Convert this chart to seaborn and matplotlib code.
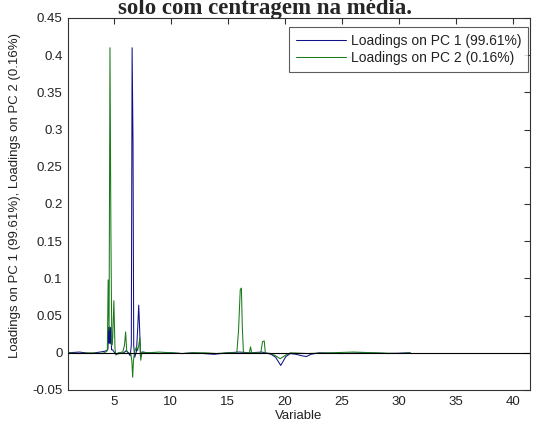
import matplotlib
matplotlib.use("Agg")
import matplotlib.pyplot as plt
import seaborn as sns
import pandas as pd
from matplotlib.ticker import FuncFormatter

# Loadings on PC 1 (variable position, loading)
pc1_x = [1.0, 2.0, 3.0, 3.8, 4.2, 4.4, 4.5, 4.55, 4.6, 4.65, 4.7, 4.75, 4.82,
         4.9, 5.0, 5.2, 5.5, 5.9, 6.1, 6.3, 6.45, 6.55, 6.62, 6.7, 6.76, 6.85,
         7.0, 7.1, 7.2, 7.28, 7.35, 7.5, 8.0, 9.0, 10.0, 11.0, 12.0, 13.8,
         15.0, 16.0, 17.0, 18.0, 18.8, 19.2, 19.65, 20.1, 20.5, 21.0, 21.5,
         21.9, 22.3, 23.0, 25.0, 27.0, 29.0, 31.0]
pc1_y = [0.0, 0.001, -0.001, 0.001, 0.002, 0.003, 0.005, 0.034, 0.013, 0.035,
         0.012, 0.034, 0.004, 0.004, 0.002, -0.002, -0.001, 0.0, 0.003, 0.0,
         -0.004, 0.01, 0.41, 0.28, 0.01, -0.006, 0.002, 0.03, 0.064, 0.032,
         -0.005, 0.001, 0.0, -0.001, 0.0, -0.001, 0.0, -0.002, 0.0, 0.001,
         0.0, 0.001, -0.002, -0.006, -0.017, -0.005, -0.001, -0.002, -0.004,
         -0.005, -0.002, 0.0, -0.001, 0.0, -0.001, 0.0]

# Loadings on PC 2
pc2_x = [1.0, 2.0, 3.0, 3.9, 4.2, 4.45, 4.52, 4.6, 4.68, 4.76, 4.84, 4.92,
         5.02, 5.12, 5.2, 5.4, 5.8, 5.95, 6.05, 6.15, 6.3, 6.5, 6.6, 6.67,
         6.74, 6.85, 7.0, 7.1, 7.2, 7.3, 7.38, 7.48, 8.0, 9.0, 10.0, 11.0,
         12.0, 13.0, 14.0, 15.0, 15.8, 15.95, 16.1, 16.2, 16.28, 16.38, 16.9,
         17.0, 17.1, 17.9, 18.05, 18.2, 18.3, 18.8, 19.2, 19.6, 20.1, 20.5,
         22.0, 24.0, 26.0, 28.0, 30.0, 31.0]
pc2_y = [0.0, -0.001, 0.0, -0.001, 0.0, 0.003, 0.098, 0.03, 0.41, 0.163,
         0.01, 0.02, 0.07, 0.005, -0.003, 0.0, 0.001, 0.01, 0.028, 0.002,
         -0.001, 0.0, -0.012, -0.033, -0.01, 0.002, 0.008, 0.003, 0.01, 0.02,
         -0.01, 0.001, 0.0, 0.001, 0.0, -0.001, 0.0, 0.0, -0.001, 0.0, 0.0,
         0.03, 0.085, 0.087, 0.035, 0.0, 0.0, 0.008, 0.0, 0.0, 0.015, 0.016,
         0.0, -0.001, -0.004, -0.008, -0.003, 0.0, -0.001, 0.0, 0.001, 0.0,
         -0.001, 0.0]

series_labels = ["Loadings on PC 1 (99.61%)", "Loadings on PC 2 (0.16%)"]
series_colors = ["#10108a", "#1a7a1a"]

x_ticks = [5, 10, 15, 20, 25, 30, 35, 40]
y_ticks = [-0.05, 0, 0.05, 0.1, 0.15, 0.2, 0.25, 0.3, 0.35, 0.4, 0.45]

df = pd.concat([
    pd.DataFrame({"Variable": pc1_x, "Loading": pc1_y, "Series": series_labels[0]}),
    pd.DataFrame({"Variable": pc2_x, "Loading": pc2_y, "Series": series_labels[1]}),
], ignore_index=True)

sns.set_style("white")
plt.rcParams["font.family"] = ["Liberation Sans", "DejaVu Sans"]

fig = plt.figure(figsize=(5.33, 4.26), dpi=100)
ax = fig.add_axes([68 / 533, 1 - 390 / 426, 462 / 533, 372 / 426])

sns.lineplot(data=df, x="Variable", y="Loading", hue="Series",
             palette=dict(zip(series_labels, series_colors)),
             estimator=None, sort=False, linewidth=0.75, ax=ax)

ax.axhline(0, color="black", linewidth=0.8, zorder=3)

ax.set_xlim(1, 41.5)
ax.set_ylim(-0.05, 0.45)
ax.set_xticks(x_ticks)
ax.set_yticks(y_ticks)
ax.yaxis.set_major_formatter(FuncFormatter(lambda v, p: f"{v:g}"))
ax.tick_params(axis="both", which="both", direction="in", length=4,
               width=0.8, top=True, right=True, labelsize=9.5,
               labelcolor="#222222", color="#333333", pad=4)
for s in ax.spines.values():
    s.set_color("#333333")
    s.set_linewidth(0.8)

ax.set_xlabel("Variable", fontsize=9.5, color="#222222", labelpad=2)
ax.set_ylabel("Loadings on PC 1 (99.61%), Loadings on PC 2 (0.16%)",
              fontsize=9.5, color="#222222")
ax.yaxis.set_label_coords(-0.102, 0.524)

leg = ax.legend(loc="upper right", bbox_to_anchor=((528 - 68) / 462, 1 - 9 / 372),
                borderaxespad=0, frameon=True, fancybox=False, fontsize=10,
                handlelength=3.6, handletextpad=0.3, borderpad=0.5,
                labelspacing=0.2, title=None)
leg.get_frame().set_edgecolor("#333333")
leg.get_frame().set_linewidth(0.8)
for t in leg.get_texts():
    t.set_color("#222222")

fig.text(0.497, 1 - 14 / 426, "solo com centragem na média.",
         ha="center", va="baseline", family=["Liberation Serif", "DejaVu Serif"],
         weight="bold", fontsize=16.5)

fig.savefig("out.png", dpi=100)
